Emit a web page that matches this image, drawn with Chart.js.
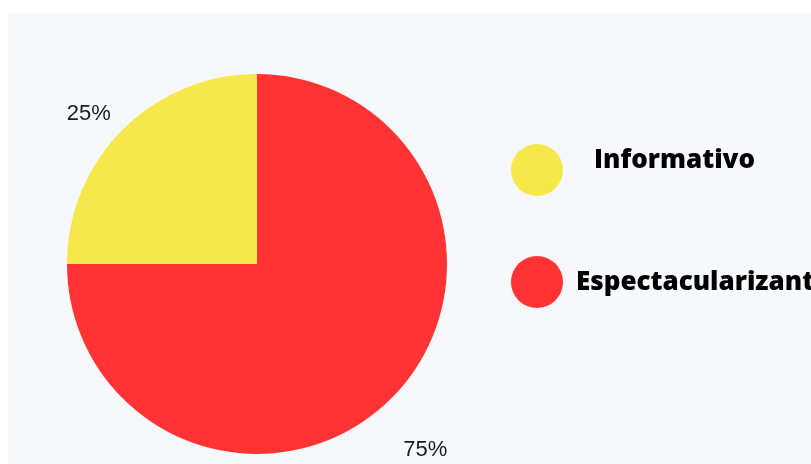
<!DOCTYPE html>
<html lang="es">
<head>
    <meta charset="UTF-8">
    <title>Informativo vs Espectacularizante</title>
    <script src="https://cdn.jsdelivr.net/npm/chart.js"></script>
    <style>
        body { margin: 0; background: #ffffff; overflow: hidden; }
        .panel {
            position: absolute;
            left: 8px;
            top: 13px;
            width: 803px;
            height: 451px;
            background: #f7f8fc;
        }
        canvas { display: block; }
    </style>
</head>
<body>
    <div class="panel">
        <canvas id="pieChart" width="803" height="451"></canvas>
    </div>

    <script>
        // Datos del gráfico
        const categories = ['Informativo', 'Espectacularizante'];
        const percentages = [25, 75];
        const sliceColors = ['#f6e84b', '#ff3333'];

        // Etiquetas de porcentaje fuera de cada porción
        const outsideLabels = {
            id: 'outsideLabels',
            afterDatasetsDraw(chart) {
                const ctx = chart.ctx;
                const meta = chart.getDatasetMeta(0);
                ctx.save();
                ctx.font = '22px "Liberation Sans", Arial, sans-serif';
                ctx.fillStyle = '#1a1a1a';
                ctx.textAlign = 'center';
                ctx.textBaseline = 'middle';
                meta.data.forEach((arc, i) => {
                    const p = arc.getProps(['x', 'y', 'startAngle', 'endAngle', 'outerRadius'], true);
                    const mid = (p.startAngle + p.endAngle) / 2;
                    const dist = p.outerRadius + 48;
                    const x = p.x + Math.cos(mid) * dist;
                    const y = p.y + Math.sin(mid) * dist + 18;
                    ctx.fillText(percentages[i] + '%', x, y);
                });
                ctx.restore();
            }
        };

        // Leyenda a la derecha con círculos grandes
        const sideLegend = {
            id: 'sideLegend',
            afterDraw(chart) {
                const ctx = chart.ctx;
                const items = [
                    { cy: 157, tx: 586, ty: 148 },
                    { cy: 269, tx: 568, ty: 270 }
                ];
                ctx.save();
                ctx.font = '800 26px "Open Sans", sans-serif';
                ctx.textBaseline = 'middle';
                ctx.textAlign = 'left';
                categories.forEach((name, i) => {
                    ctx.fillStyle = sliceColors[i];
                    ctx.beginPath();
                    ctx.arc(529, items[i].cy, 26, 0, Math.PI * 2);
                    ctx.fill();
                    ctx.fillStyle = '#000000';
                    ctx.fillText(name, items[i].tx, items[i].ty);
                });
                ctx.restore();
            }
        };

        new Chart(document.getElementById('pieChart'), {
            type: 'pie',
            data: {
                labels: categories,
                datasets: [{
                    data: percentages,
                    backgroundColor: sliceColors,
                    borderWidth: 0
                }]
            },
            options: {
                responsive: false,
                animation: false,
                rotation: -90,
                layout: {
                    padding: { top: 61, bottom: 10, left: 59, right: 364 }
                },
                plugins: {
                    legend: { display: false },
                    tooltip: { enabled: false }
                }
            },
            plugins: [outsideLabels, sideLegend]
        });
    </script>
</body>
</html>
